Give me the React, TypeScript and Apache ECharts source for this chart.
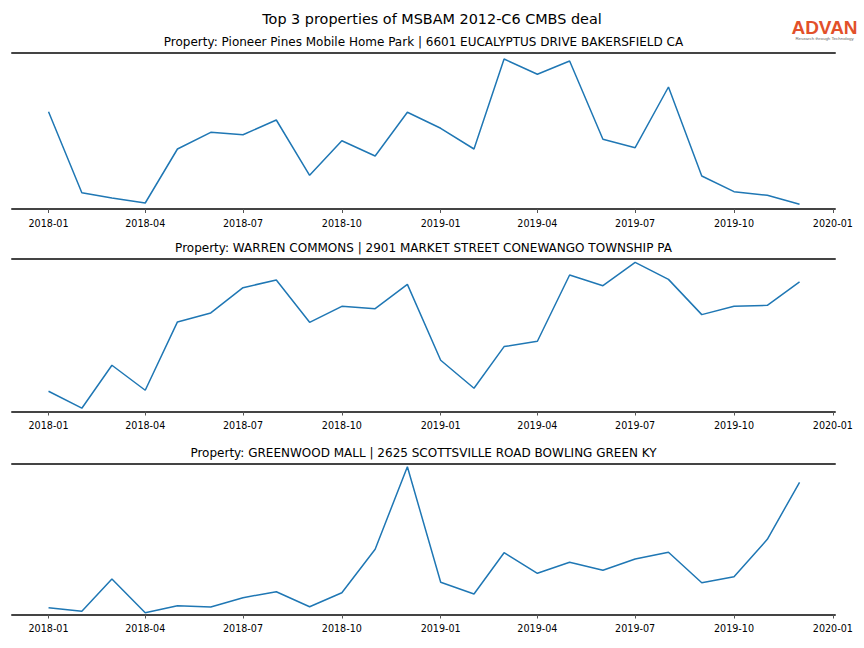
import React, { useEffect, useRef } from "react";
import * as echarts from "echarts";

// ---- data ----
const months: string[] = [
  "2018-01", "2018-02", "2018-03", "2018-04", "2018-05", "2018-06",
  "2018-07", "2018-08", "2018-09", "2018-10", "2018-11", "2018-12",
  "2019-01", "2019-02", "2019-03", "2019-04", "2019-05", "2019-06",
  "2019-07", "2019-08", "2019-09", "2019-10", "2019-11", "2019-12",
];

const tickLabels: string[] = [
  "2018-01", "2018-04", "2018-07", "2018-10",
  "2019-01", "2019-04", "2019-07", "2019-10", "2020-01",
];

const mainTitle = "Top 3 properties of MSBAM 2012-C6 CMBS deal";

const panelTitles: string[] = [
  "Property: Pioneer Pines Mobile Home Park | 6601 EUCALYPTUS DRIVE BAKERSFIELD CA",
  "Property: WARREN COMMONS | 2901 MARKET STREET CONEWANGO TOWNSHIP PA",
  "Property: GREENWOOD MALL | 2625 SCOTTSVILLE ROAD BOWLING GREEN KY",
];

// relative activity index (no y scale shown)
const pioneerValues: number[] = [
  97.3, 16.3, 11.0, 6.0, 60.0, 76.7, 74.3, 89.0, 33.7, 68.3, 53.0, 96.7,
  80.7, 60.0, 150.0, 134.7, 148.0, 69.7, 61.3, 122.0, 33.0, 17.3, 13.7, 4.7,
];
const warrenValues: number[] = [
  20.3, 3.3, 46.3, 21.3, 89.7, 98.7, 124.0, 131.7, 89.3, 105.3, 103.0, 127.3,
  51.3, 23.3, 65.0, 70.3, 136.7, 126.0, 149.3, 132.3, 97.0, 105.3, 106.3, 129.7,
];
const greenwoodValues: number[] = [
  6.8, 3.2, 35.5, 1.8, 8.8, 7.5, 16.8, 22.8, 7.8, 21.8, 65.2, 147.8,
  32.2, 20.5, 61.8, 41.2, 52.2, 44.2, 55.5, 62.2, 31.8, 37.8, 75.2, 132.2,
];

const panelValues: number[][] = [pioneerValues, warrenValues, greenwoodValues];
const yMaxes: number[] = [156, 152.7, 150.5];

const xMin = "2017-11-28";
const xMax = "2020-01-03";

const toUTC = (s: string): number => {
  const p = s.split("-").map(Number);
  return Date.UTC(p[0], p[1] - 1, p[2] || 1);
};

const fmt = (v: number): string => {
  const d = new Date(v);
  const m = d.getUTCMonth() + 1;
  return `${d.getUTCFullYear()}-${m < 10 ? "0" : ""}${m}`;
};

const FONT = "DejaVu Sans";

export default function App() {
  const ref = useRef<HTMLDivElement>(null);

  useEffect(() => {
    if (!ref.current) return;
    const chart = echarts.init(ref.current, null, { renderer: "svg" });

    const gridTops = [53, 259, 464];
    const gridHeights = [156, 152.5, 150.5];
    const tickValues = tickLabels.map(toUTC);
    const spine = { color: "#444444", width: 2 };

    const grids: any[] = [];
    const xAxes: any[] = [];
    const yAxes: any[] = [];
    const series: any[] = [];
    const graphics: any[] = [];

    panelValues.forEach((vals, i) => {
      grids.push({
        left: 12,
        right: 29,
        top: gridTops[i],
        height: gridHeights[i],
        containLabel: false,
      });
      // bottom spine with ticks (linear time in ms)
      xAxes.push({
        type: "value",
        gridIndex: i,
        position: "bottom",
        min: toUTC(xMin),
        max: toUTC(xMax),
        axisLine: { show: true, onZero: false, lineStyle: spine },
        axisTick: {
          show: true,
          length: 4,
          customValues: tickValues,
          lineStyle: { color: "#555555", width: 1 },
        },
        axisLabel: {
          show: true,
          customValues: tickValues,
          formatter: (v: number) => fmt(v),
          fontSize: 9.6,
          fontFamily: FONT,
          color: "#000000",
          margin: 9,
          hideOverlap: false,
          showMinLabel: true,
          showMaxLabel: true,
        },
        splitLine: { show: false },
      });
      // top spine
      xAxes.push({
        type: "value",
        gridIndex: i,
        position: "top",
        min: toUTC(xMin),
        max: toUTC(xMax),
        axisLine: { show: true, onZero: false, lineStyle: spine },
        axisTick: { show: false },
        axisLabel: { show: false },
        splitLine: { show: false },
      });
      yAxes.push({
        type: "value",
        gridIndex: i,
        min: 0,
        max: yMaxes[i],
        show: false,
        splitLine: { show: false },
      });
      series.push({
        type: "line",
        xAxisIndex: 2 * i,
        yAxisIndex: i,
        data: months.map((m, k) => [toUTC(m), vals[k]]),
        symbol: "none",
        showSymbol: false,
        lineStyle: { color: "#1f77b4", width: 1.5 },
        silent: true,
      });
      graphics.push({
        type: "text",
        x: 423.5,
        y: gridTops[i] - 11,
        style: {
          text: panelTitles[i],
          fontSize: 12,
          fontFamily: FONT,
          fill: "#000000",
          textAlign: "center",
          textVerticalAlign: "middle",
        },
      });
    });

    graphics.push({
      type: "text",
      x: 432,
      y: 19,
      style: {
        text: mainTitle,
        fontSize: 14.4,
        fontFamily: FONT,
        fill: "#000000",
        textAlign: "center",
        textVerticalAlign: "middle",
      },
    });
    // logo
    graphics.push({
      type: "text",
      x: 824.5,
      y: 27.5,
      style: {
        text: "ADVAN",
        fontSize: 19,
        lineHeight: 15,
        fontWeight: "bold",
        fontFamily: "Liberation Sans",
        fill: "#e2502a",
        textAlign: "center",
        textVerticalAlign: "middle",
      },
    });
    graphics.push({
      type: "text",
      x: 824.5,
      y: 38.8,
      style: {
        text: "Research through Technology",
        fontSize: 4.4,
        lineHeight: 5,
        fontFamily: "Liberation Sans",
        fill: "#666666",
        textAlign: "center",
        textVerticalAlign: "middle",
      },
    });

    chart.setOption({
      animation: false,
      backgroundColor: "#ffffff",
      grid: grids,
      xAxis: xAxes,
      yAxis: yAxes,
      series,
      graphic: graphics,
    });

    return () => chart.dispose();
  }, []);

  return (
    <div
      ref={ref}
      style={{ position: "fixed", left: 0, top: 0, width: 864, height: 648 }}
    />
  );
}
